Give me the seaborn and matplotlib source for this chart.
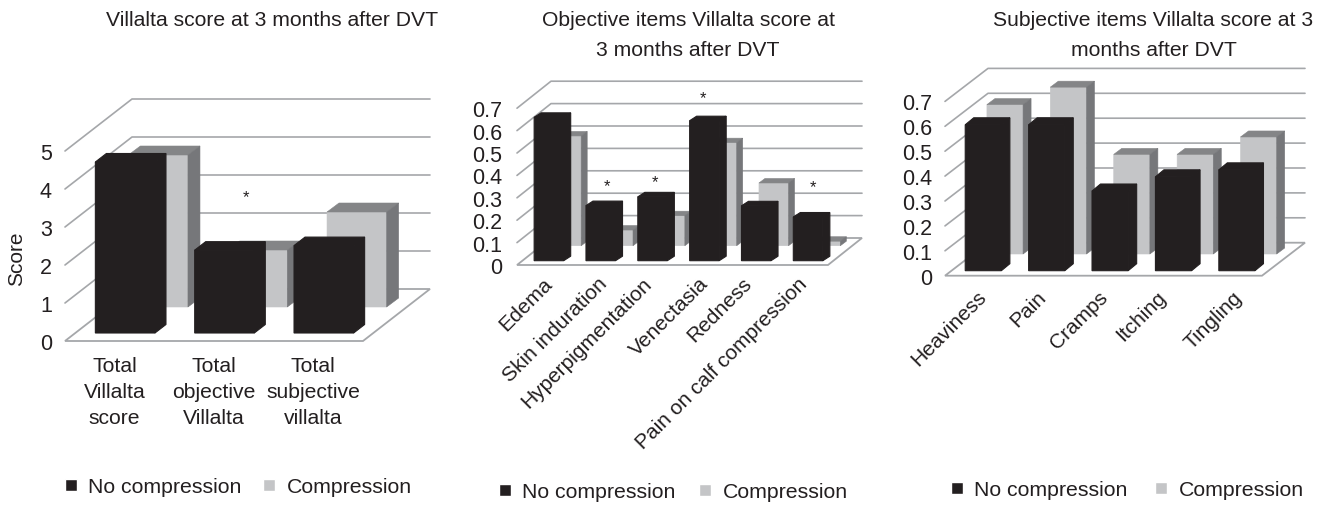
import pandas as pd
import matplotlib
matplotlib.use("Agg")
import matplotlib.pyplot as plt
from matplotlib.patches import Polygon
from matplotlib.transforms import Affine2D, IdentityTransform
import seaborn as sns

# Values
total_labels = ["Total\nVillalta\nscore", "Total\nobjective\nVillalta", "Total\nsubjective\nvillalta"]
total_none = [4.5, 2.18, 2.3]
total_comp = [4.0, 1.5, 2.5]
total_ticks = [0, 1, 2, 3, 4, 5]

objective_labels = ["Edema", "Skin induration", "Hyperpigmentation", "Venectasia", "Redness", "Pain on calf compression"]
objective_none = [0.64, 0.246, 0.285, 0.625, 0.245, 0.195]
objective_comp = [0.49, 0.07, 0.134, 0.46, 0.28, 0.02]

subjective_labels = ["Heaviness", "Pain", "Cramps", "Itching", "Tingling"]
subjective_none = [0.586, 0.586, 0.32, 0.377, 0.405]
subjective_comp = [0.6, 0.67, 0.4, 0.4, 0.47]
tenth_ticks = [0, 0.1, 0.2, 0.3, 0.4, 0.5, 0.6, 0.7]

groups = ["No compression", "Compression"]

W, H = 1330, 506
INK = "#231f20"
GRID = "#a5a7aa"
FACE = {"No compression": "#231f20", "Compression": "#c4c5c7"}
TOP = {"No compression": "#231f20", "Compression": "#848587"}
SIDE = {"No compression": "#231f20", "Compression": "#76777a"}

sns.set_theme(style="white")
plt.rcParams["font.family"] = ["Liberation Sans", "DejaVu Sans"]
plt.rcParams["text.color"] = INK

fig = plt.figure(figsize=(W / 100, H / 100), dpi=100)


def fx(x):
    return x / W


def fy(y):
    return 1 - y / H


def to_px(ax, x, y):
    return ax.transData.transform((x, y))


def draw_panel(labels, none, comp, ticks, tick_fmt, left, right, base, scale, width, floor,
               black_off, black_depth, grey_off, grey_depth, pad, legend_xy, col_gap):
    top = base - scale * ticks[-1]
    ax = fig.add_axes([fx(left), fy(base), (right - left) / W, (base - top) / H])
    n = len(labels)
    df = pd.DataFrame({
        "item": labels * 2,
        "group": [groups[0]] * n + [groups[1]] * n,
        "value": none + comp,
    })
    sns.barplot(data=df, x="item", y="value", hue="group", hue_order=groups, palette=FACE,
                dodge=False, width=width, saturation=1, ax=ax, zorder=3)
    ax.set_xlim(-0.5, n - 0.5)
    ax.set_ylim(0, ticks[-1])
    ax.set_xlabel("")
    ax.set_ylabel("")
    sns.despine(ax=ax, left=True, bottom=True)
    ax.patch.set_alpha(0)

    # back wall, side wall and floor
    disp = IdentityTransform()
    for v in ticks:
        x0, y0 = to_px(ax, -0.5, v)
        x1, y1 = to_px(ax, n - 0.5, v)
        if v == 0:
            ax.add_patch(Polygon([(x0, y0), (x0 + floor[0], y0 + floor[1]),
                                  (x1 + floor[0], y1 + floor[1]), (x1, y1)], closed=True, fc="white",
                                 ec=GRID, lw=1.3, transform=disp, zorder=1.5, clip_on=False))
        else:
            ax.plot([x0, x0 + floor[0], x1 + floor[0]], [y0, y0 + floor[1], y1 + floor[1]],
                    color=GRID, lw=1.2, transform=disp, zorder=1, clip_on=False)

    # push each series back and give it a top and a side
    for group, bars, off, depth, z in zip(groups, ax.containers, [black_off, grey_off],
                                          [black_depth, grey_depth], [5, 3]):
        seam = 0.8 if group == groups[0] else 0.4
        for bar in bars:
            bar.set_transform(ax.transData + Affine2D().translate(*off))
            bar.set_edgecolor(FACE[group])
            bar.set_linewidth(seam)
            bar.set_snap(False)
            bar.set_zorder(z)
            bar.set_clip_on(False)
            x_a, y_a = to_px(ax, bar.get_x(), 0)
            x_b, y_b = to_px(ax, bar.get_x() + bar.get_width(), bar.get_height())
            x_a, x_b = x_a + off[0], x_b + off[0]
            y_a, y_b = y_a + off[1], y_b + off[1]
            dx, dy = depth
            ax.add_patch(Polygon([(x_a, y_b), (x_a + dx, y_b + dy), (x_b + dx, y_b + dy), (x_b, y_b)],
                                 closed=True, fc=TOP[group], ec=TOP[group], lw=seam, transform=disp,
                                 zorder=z, clip_on=False))
            ax.add_patch(Polygon([(x_b, y_a), (x_b + dx, y_a + dy), (x_b + dx, y_b + dy), (x_b, y_b)],
                                 closed=True, fc=SIDE[group], ec=SIDE[group], lw=seam, transform=disp,
                                 zorder=z, clip_on=False))

    ax.set_yticks(ticks, [tick_fmt(t) for t in ticks], fontsize=15.5, color=INK)
    ax.tick_params(axis="both", length=0)
    ax.tick_params(axis="y", pad=pad)

    sns.move_legend(ax, "center left", bbox_to_anchor=(fx(legend_xy[0]), fy(legend_xy[1])),
                    bbox_transform=fig.transFigure, ncol=2, title=None, frameon=False, fontsize=15.3,
                    handlelength=0.55, handleheight=0.55, handletextpad=0.55, columnspacing=col_gap,
                    borderpad=0, borderaxespad=0)
    return ax


ax1 = draw_panel(total_labels, total_none, total_comp, total_ticks, str, 65, 363, 342, 38, 0.6,
                 (67, 52), (10.5, 8), (11, 8.5), (43.5, 34), (12, 9), 9.5, (65, 488), 1.0)
ax1.set_xticks(range(3), total_labels, fontsize=15.2, color=INK, linespacing=1.47)
ax1.tick_params(axis="x", pad=11)
fig.text(fx(17), fy(259), "Score", rotation=90, ha="center", va="center", fontsize=15)

ax2 = draw_panel(objective_labels, objective_none, objective_comp, tenth_ticks, str, 517, 828, 266, 224, 0.57,
                 (34, 27), (6, 4.3), (7, 4.5), (23.5, 19.3), (6, 4.5), 10.5, (499, 493), 1.1)
ax3 = draw_panel(subjective_labels, subjective_none, subjective_comp, tenth_ticks, str, 945, 1262, 276.7, 249, 0.57,
                 (43, 33), (6.6, 5), (8.5, 7), (28.3, 21.7), (8, 6), 9.5, (951, 491), 1.3)

# the rotated labels sit a little off their bars in the original
objective_nudge = [0, 3, -5, 0, -8, -5]
subjective_nudge = [0, -4, -5, -11, 2]
for ax, nudge, pad in ((ax2, objective_nudge, 6), (ax3, subjective_nudge, 8)):
    ax.tick_params(axis="x", pad=pad)
    for tick, dx in zip(ax.get_xticklabels(), nudge):
        tick.set(rotation=45, ha="right", rotation_mode="anchor", fontsize=15, color=INK)
        tick.set_transform(tick.get_transform() + Affine2D().translate(dx, 0))

title_size = 15.2
fig.text(fx(272), fy(20.5), "Villalta score at 3 months after DVT", ha="center", va="center", fontsize=title_size)
fig.text(fx(689), fy(21), "Objective items Villalta score at", ha="center", va="center", fontsize=title_size)
fig.text(fx(688), fy(50), "3 months after DVT", ha="center", va="center", fontsize=title_size)
fig.text(fx(1153), fy(21), "Subjective items Villalta score at 3", ha="center", va="center", fontsize=title_size)
fig.text(fx(1154), fy(50), "months after DVT", ha="center", va="center", fontsize=title_size)

# significance stars
for sx, sy in [(246, 198), (607, 187), (655, 183), (703, 99), (813, 188)]:
    fig.text(fx(sx), fy(sy), "*", ha="center", va="center", fontsize=12)

fig.savefig("out.png", dpi=100, facecolor="white")
